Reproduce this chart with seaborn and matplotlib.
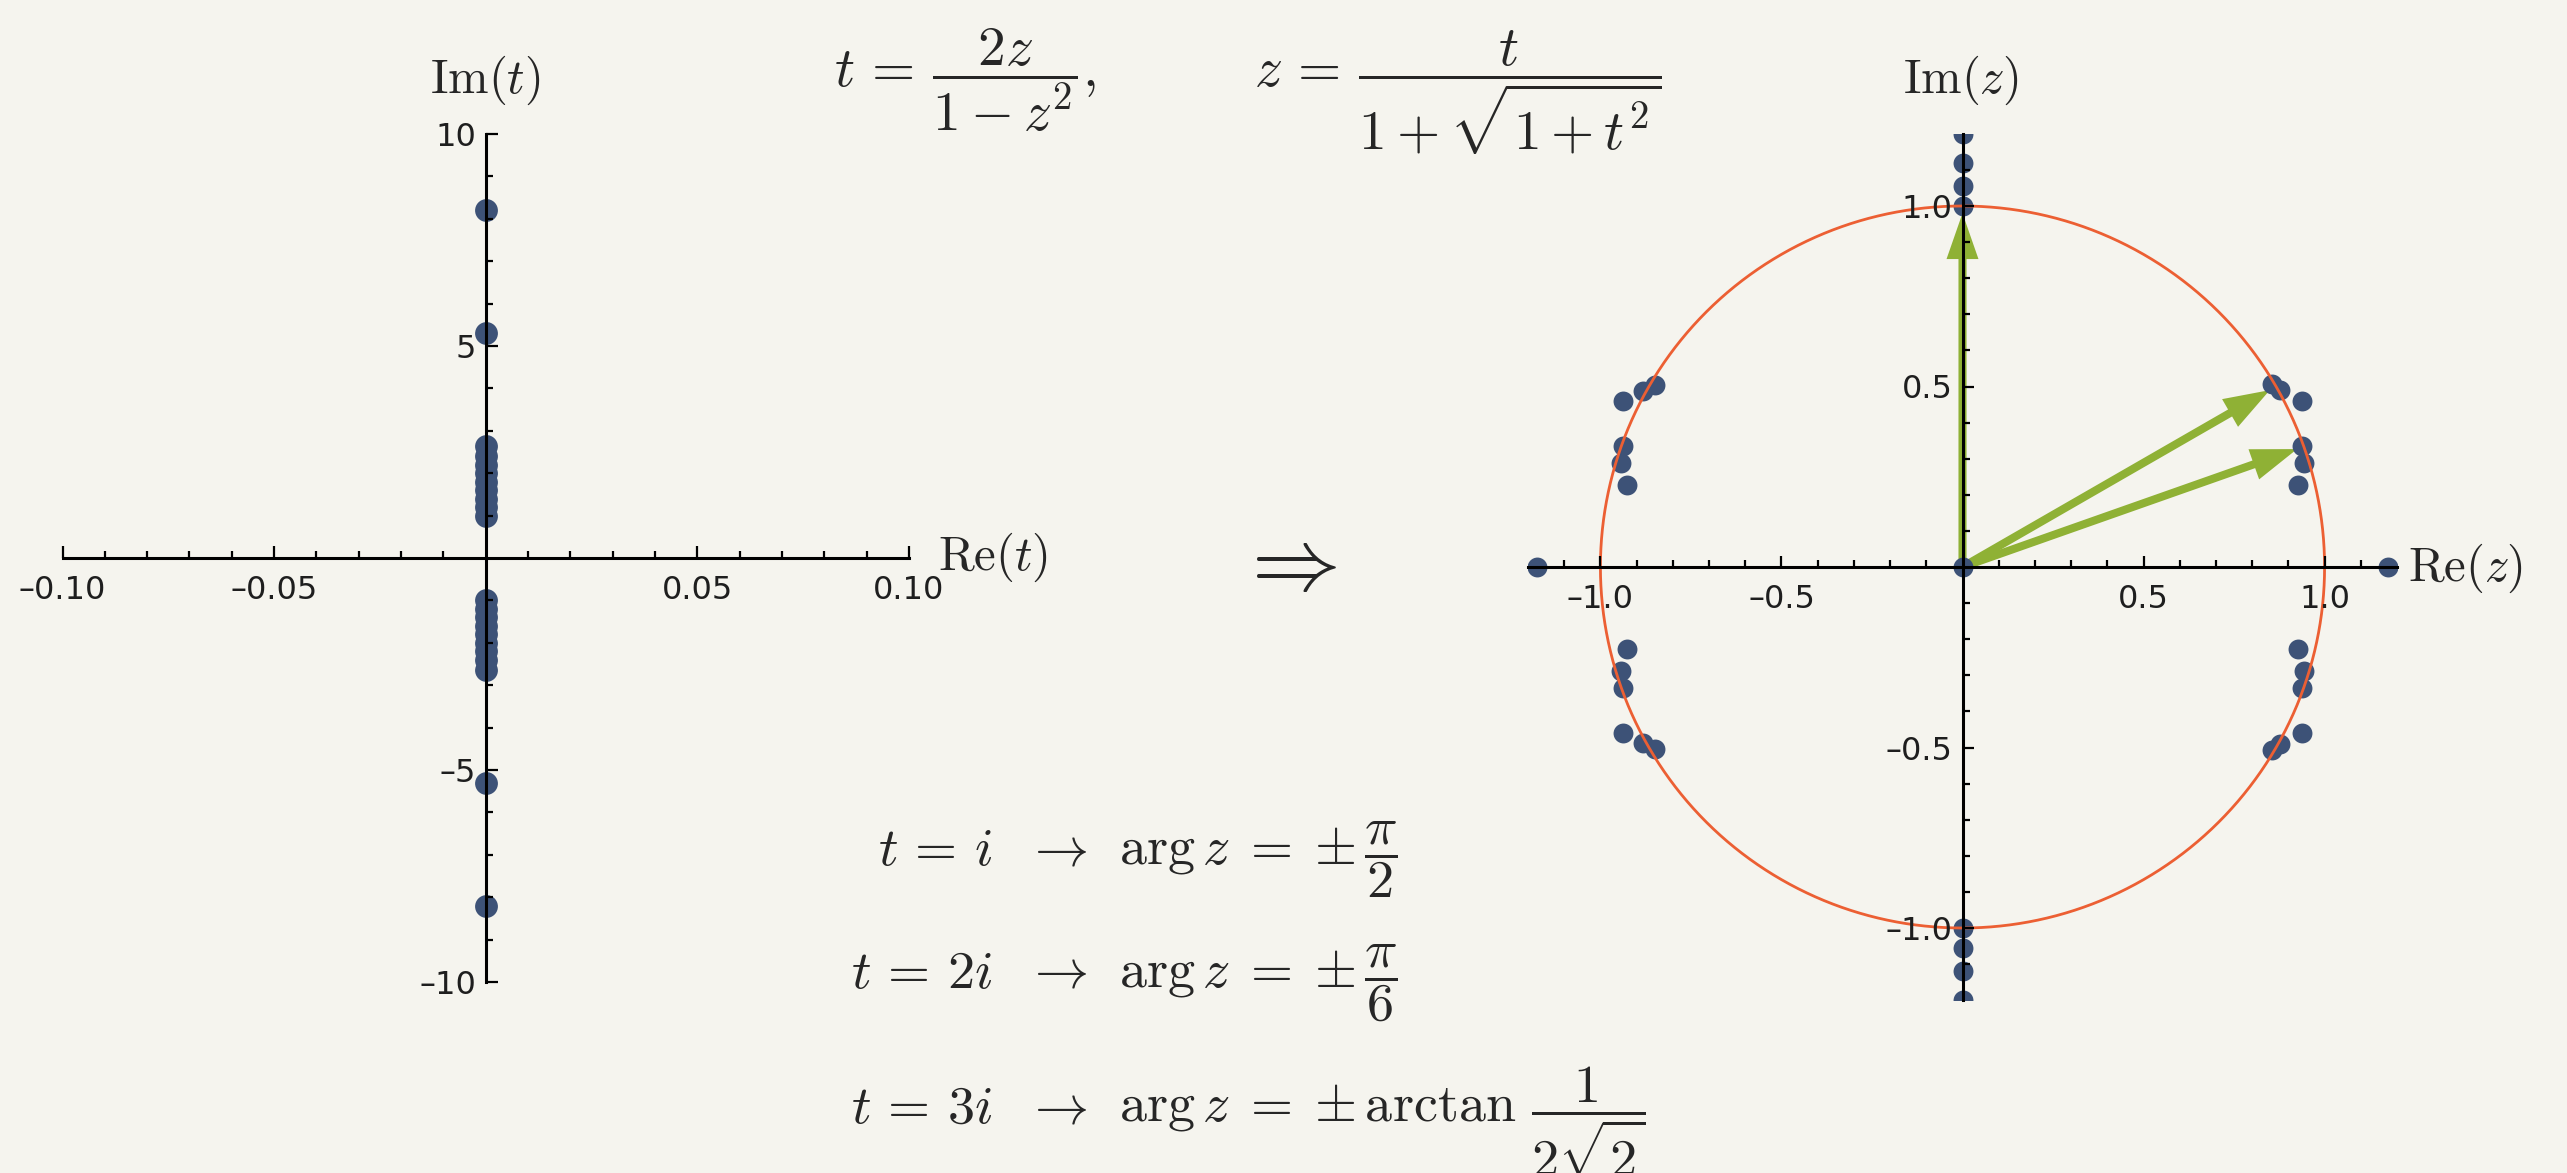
import numpy as np
import pandas as pd
import matplotlib
matplotlib.use("Agg")
import matplotlib.pyplot as plt
import seaborn as sns

# ---- data -------------------------------------------------------------
# t-plane: purely imaginary values of t
t_re = [0.0, 0.0, 0.0, 0.0, 0.0, 0.0, 0.0, 0.0, 0.0, 0.0, 0.0,
        0.0, 0.0, 0.0, 0.0, 0.0, 0.0, 0.0, 0.0, 0.0, 0.0, 0.0]
t_im = [8.2, 5.3, 2.65, 2.4, 2.2, 2.0, 1.8, 1.6, 1.4, 1.2, 1.0,
        -1.0, -1.2, -1.4, -1.6, -1.8, -2.0, -2.2, -2.4, -2.65, -5.3, -8.2]

# z-plane images
z_re = [0.0, 0.0, 0.0, 0.0, 0.0, 0.0, 0.0, 0.0,
        -1.175, 0.0, 1.175,
        0.855, 0.878, 0.937, 0.937, 0.943, 0.926,
        -0.850, -0.883, -0.939, -0.937, -0.944, -0.926,
        0.855, 0.878, 0.937, 0.937, 0.943, 0.926,
        -0.850, -0.883, -0.939, -0.937, -0.944, -0.926]
z_im = [1.0, 1.055, 1.118, 1.2, -1.0, -1.055, -1.118, -1.2,
        0.0, 0.0, 0.0,
        0.506, 0.490, 0.461, 0.335, 0.287, 0.226,
        0.505, 0.488, 0.461, 0.335, 0.287, 0.226,
        -0.506, -0.490, -0.461, -0.335, -0.287, -0.226,
        -0.505, -0.488, -0.461, -0.335, -0.287, -0.226]

# arrows: arg z for t = i, 2i, 3i (degrees) and drawn length
arrow_angles = [90.0, 30.0, 19.47]
arrow_length = 0.98

# ticks
tx_major = [-0.10, -0.05, 0.05, 0.10]
tx_labels = ["\u20130.10", "\u20130.05", "0.05", "0.10"]
ty_major = [-10, -5, 5, 10]
ty_labels = ["\u201310", "\u20135", "5", "10"]
zx_major = [-1.0, -0.5, 0.5, 1.0]
zx_labels = ["\u20131.0", "\u20130.5", "0.5", "1.0"]
zy_major = [-1.0, -0.5, 0.5, 1.0]
zy_labels = ["\u20131.0", "\u20130.5", "0.5", "1.0"]

# ---- style ------------------------------------------------------------
BG = "#f5f4ee"
DOT = "#3d5277"
CIRC = "#ec5f33"
ARROW = "#8fb135"
W, H, DPI = 2567, 1173, 100

sns.set_theme(style="white")
plt.rcParams.update({
    "font.family": ["DejaVu Sans"],
    "mathtext.fontset": "cm",
    "figure.facecolor": BG,
    "savefig.facecolor": BG,
    "axes.facecolor": "none",
})

fig = plt.figure(figsize=(W / DPI, H / DPI), dpi=DPI)


def axes_px(x0, x1, y_top, y_bot):
    return fig.add_axes([x0 / W, 1 - y_bot / H, (x1 - x0) / W, (y_bot - y_top) / H])


def text_px(x, y, s, **kw):
    fig.text(x / W, 1 - y / H, s, **kw)


def style_axes(ax, xlim, ylim, xmaj, xlab, xmin, ymaj, ylab, ymin,
               maj_len, min_len):
    ax.set_xlim(*xlim)
    ax.set_ylim(*ylim)
    ax.grid(False)
    ax.set_axisbelow(False)
    for side in ("top", "right"):
        ax.spines[side].set_visible(False)
    for side in ("left", "bottom"):
        ax.spines[side].set_position(("data", 0))
        ax.spines[side].set_linewidth(2.2)
        ax.spines[side].set_color("black")
        ax.spines[side].set_zorder(2.5)
    ax.set_xticks(xmaj)
    ax.set_xticklabels(xlab)
    ax.set_xticks(xmin, minor=True)
    ax.set_yticks(ymaj)
    ax.set_yticklabels(ylab)
    ax.set_yticks(ymin, minor=True)
    ax.tick_params(which="both", direction="in", color="black", width=1.6,
                   bottom=True, left=True, top=False, right=False,
                   labelsize=23, labelcolor="#1e1e1e")
    ax.tick_params(which="major", length=maj_len)
    ax.tick_params(which="minor", length=min_len)
    ax.tick_params(axis="x", which="both", pad=12)
    ax.tick_params(axis="y", which="both", pad=7)
    ax.set_xlabel("")
    ax.set_ylabel("")


# ---- t-plane ----------------------------------------------------------
axL = axes_px(62.5, 909, 134, 982)
sns.scatterplot(x=t_re, y=t_im, ax=axL, s=270, color=DOT, linewidth=0,
                zorder=2, legend=False)
style_axes(axL, (-0.1, 0.1), (-10, 10),
           tx_major, tx_labels, [v / 100 for v in range(-9, 10) if v % 5],
           ty_major, ty_labels, [v for v in range(-9, 10) if v % 5],
           maj_len=8.5, min_len=5)

# ---- z-plane ----------------------------------------------------------
axR = axes_px(1528, 2397, 133.8, 1000.2)
for ang in arrow_angles:
    a = np.deg2rad(ang)
    axR.annotate("", xy=(arrow_length * np.cos(a), arrow_length * np.sin(a)),
                 xytext=(0, 0),
                 arrowprops=dict(arrowstyle="simple,head_length=33,head_width=23,tail_width=5.8",
                                 mutation_scale=1, color=ARROW, lw=0,
                                 shrinkA=0, shrinkB=0),
                 zorder=1.8)
sns.scatterplot(x=z_re, y=z_im, ax=axR, s=205, color=DOT, linewidth=0,
                zorder=2, legend=False)
theta = np.linspace(0, 2 * np.pi, 721)
circle = pd.DataFrame({"x": np.cos(theta), "y": np.sin(theta)})
sns.lineplot(data=circle, x="x", y="y", ax=axR, sort=False, estimator=None,
             color=CIRC, linewidth=2.0, zorder=2.2)
style_axes(axR, (-1.2, 1.2), (-1.2, 1.2),
           zx_major, zx_labels, [v / 10 for v in range(-11, 12) if v % 5],
           zy_major, zy_labels, [v / 10 for v in range(-11, 12) if v % 5],
           maj_len=8, min_len=4.7)

# ---- labels and formulas ----------------------------------------------
LBL = 35
text_px(485, 80, r"$\mathrm{Im}(t)$", fontsize=LBL, ha="center", va="center")
text_px(938, 557, r"$\mathrm{Re}(t)$", fontsize=LBL, ha="left", va="center")
text_px(1961, 80, r"$\mathrm{Im}(z)$", fontsize=LBL, ha="center", va="center")
text_px(2408, 568, r"$\mathrm{Re}(z)$", fontsize=LBL, ha="left", va="center")
text_px(1287, 565, r"$\Rightarrow$", fontsize=64, ha="center", va="center")

text_px(834, 92,
        r"$t\,=\,\dfrac{2z}{1-z^2},\qquad\quad z\,=\,\dfrac{t}{1+\sqrt{1+t^2}}$",
        fontsize=40, ha="left", va="center")

FS = 39
rows = [
    (865, r"$t\,=\,i$", r"$\arg z\;=\;{\pm}\,\dfrac{\pi}{2}$"),
    (988, r"$t\,=\,2i$", r"$\arg z\;=\;{\pm}\,\dfrac{\pi}{6}$"),
    (1123, r"$t\,=\,3i$", r"$\arg z\;=\;{\pm}\,\arctan\,\dfrac{1}{2\sqrt{2}}$"),
]
for y, lhs, rhs in rows:
    text_px(993, y, lhs, fontsize=FS, ha="right", va="baseline")
    text_px(1056, y, r"$\rightarrow$", fontsize=FS, ha="center", va="baseline")
    text_px(1119, y, rhs, fontsize=FS, ha="left", va="baseline")

fig.savefig("out.png", dpi=DPI, facecolor=BG)
